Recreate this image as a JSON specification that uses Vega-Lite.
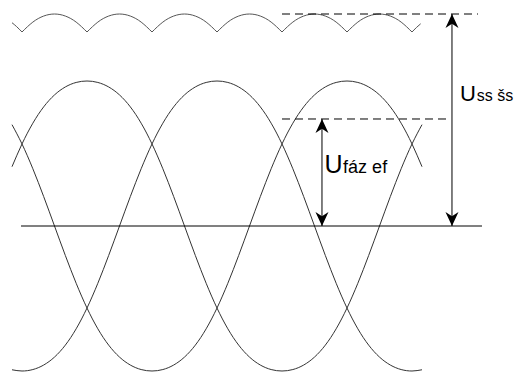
{
"$schema": "https://vega.github.io/schema/vega-lite/v6.json",
"width": 520, "height": 373, "padding": 0, "autosize": {"type": "none"},
"background": "white",
"config": {"view": {"stroke": null}},
"datasets": {
"phases": [
{"phase":"A","x":-69.23,"y":0.40897},{"phase":"A","x":-60,"y":0.56576},{"phase":"A","x":-50,"y":0.70894},{"phase":"A","x":-40,"y":0.82154},{"phase":"A","x":-30,"y":0.904},{"phase":"A","x":-20,"y":0.95897},{"phase":"A","x":-10,"y":0.99002},{"phase":"A","x":0,"y":1},{"phase":"A","x":10,"y":0.99002},{"phase":"A","x":20,"y":0.95897},{"phase":"A","x":30,"y":0.904},{"phase":"A","x":40,"y":0.82154},{"phase":"A","x":50,"y":0.70894},{"phase":"A","x":60,"y":0.56576},{"phase":"A","x":70,"y":0.39498},{"phase":"A","x":80,"y":0.20318},{"phase":"A","x":90,"y":0},{"phase":"A","x":100,"y":-0.20318},{"phase":"A","x":110,"y":-0.39498},{"phase":"A","x":120,"y":-0.56576},{"phase":"A","x":130,"y":-0.70894},{"phase":"A","x":140,"y":-0.82154},{"phase":"A","x":150,"y":-0.904},{"phase":"A","x":160,"y":-0.95897},{"phase":"A","x":170,"y":-0.99002},{"phase":"A","x":180,"y":-1},{"phase":"A","x":190,"y":-0.99002},{"phase":"A","x":200,"y":-0.95897},{"phase":"A","x":210,"y":-0.904},{"phase":"A","x":220,"y":-0.82154},{"phase":"A","x":230,"y":-0.70894},{"phase":"A","x":240,"y":-0.56576},{"phase":"A","x":250,"y":-0.39498},{"phase":"A","x":260,"y":-0.20318},{"phase":"A","x":270,"y":0},{"phase":"A","x":280,"y":0.20318},{"phase":"A","x":290,"y":0.39498},{"phase":"A","x":300,"y":0.56576},{"phase":"A","x":309.23,"y":0.69891},
{"phase":"B","x":-69.23,"y":-0.99151},{"phase":"B","x":-60,"y":-1},{"phase":"B","x":-50,"y":-0.99002},{"phase":"B","x":-40,"y":-0.95897},{"phase":"B","x":-30,"y":-0.904},{"phase":"B","x":-20,"y":-0.82154},{"phase":"B","x":-10,"y":-0.70894},{"phase":"B","x":0,"y":-0.56576},{"phase":"B","x":10,"y":-0.39498},{"phase":"B","x":20,"y":-0.20318},{"phase":"B","x":30,"y":0},{"phase":"B","x":40,"y":0.20318},{"phase":"B","x":50,"y":0.39498},{"phase":"B","x":60,"y":0.56576},{"phase":"B","x":70,"y":0.70894},{"phase":"B","x":80,"y":0.82154},{"phase":"B","x":90,"y":0.904},{"phase":"B","x":100,"y":0.95897},{"phase":"B","x":110,"y":0.99002},{"phase":"B","x":120,"y":1},{"phase":"B","x":130,"y":0.99002},{"phase":"B","x":140,"y":0.95897},{"phase":"B","x":150,"y":0.904},{"phase":"B","x":160,"y":0.82154},{"phase":"B","x":170,"y":0.70894},{"phase":"B","x":180,"y":0.56576},{"phase":"B","x":190,"y":0.39498},{"phase":"B","x":200,"y":0.20318},{"phase":"B","x":210,"y":0},{"phase":"B","x":220,"y":-0.20318},{"phase":"B","x":230,"y":-0.39498},{"phase":"B","x":240,"y":-0.56576},{"phase":"B","x":250,"y":-0.70894},{"phase":"B","x":260,"y":-0.82154},{"phase":"B","x":270,"y":-0.904},{"phase":"B","x":280,"y":-0.95897},{"phase":"B","x":290,"y":-0.99002},{"phase":"B","x":300,"y":-1},{"phase":"B","x":309.23,"y":-0.99151},
{"phase":"C","x":-69.23,"y":0.69891},{"phase":"C","x":-60,"y":0.56576},{"phase":"C","x":-50,"y":0.39498},{"phase":"C","x":-40,"y":0.20318},{"phase":"C","x":-30,"y":0},{"phase":"C","x":-20,"y":-0.20318},{"phase":"C","x":-10,"y":-0.39498},{"phase":"C","x":0,"y":-0.56576},{"phase":"C","x":10,"y":-0.70894},{"phase":"C","x":20,"y":-0.82154},{"phase":"C","x":30,"y":-0.904},{"phase":"C","x":40,"y":-0.95897},{"phase":"C","x":50,"y":-0.99002},{"phase":"C","x":60,"y":-1},{"phase":"C","x":70,"y":-0.99002},{"phase":"C","x":80,"y":-0.95897},{"phase":"C","x":90,"y":-0.904},{"phase":"C","x":100,"y":-0.82154},{"phase":"C","x":110,"y":-0.70894},{"phase":"C","x":120,"y":-0.56576},{"phase":"C","x":130,"y":-0.39498},{"phase":"C","x":140,"y":-0.20318},{"phase":"C","x":150,"y":0},{"phase":"C","x":160,"y":0.20318},{"phase":"C","x":170,"y":0.39498},{"phase":"C","x":180,"y":0.56576},{"phase":"C","x":190,"y":0.70894},{"phase":"C","x":200,"y":0.82154},{"phase":"C","x":210,"y":0.904},{"phase":"C","x":220,"y":0.95897},{"phase":"C","x":230,"y":0.99002},{"phase":"C","x":240,"y":1},{"phase":"C","x":250,"y":0.99002},{"phase":"C","x":260,"y":0.95897},{"phase":"C","x":270,"y":0.904},{"phase":"C","x":280,"y":0.82154},{"phase":"C","x":290,"y":0.70894},{"phase":"C","x":300,"y":0.56576},{"phase":"C","x":309.23,"y":0.40897}
],
"ripple": [
{"seg":0,"x":-69.23,"y":1.40185},{"seg":0,"x":-65,"y":1.37528},{"seg":0,"x":-60,"y":1.338},
{"seg":1,"x":-60,"y":1.338},{"seg":1,"x":-50,"y":1.40618},{"seg":1,"x":-40,"y":1.44794},{"seg":1,"x":-30,"y":1.462},{"seg":1,"x":-20,"y":1.44794},{"seg":1,"x":-10,"y":1.40618},{"seg":1,"x":0,"y":1.338},
{"seg":2,"x":0,"y":1.338},{"seg":2,"x":10,"y":1.40618},{"seg":2,"x":20,"y":1.44794},{"seg":2,"x":30,"y":1.462},{"seg":2,"x":40,"y":1.44794},{"seg":2,"x":50,"y":1.40618},{"seg":2,"x":60,"y":1.338},
{"seg":3,"x":60,"y":1.338},{"seg":3,"x":70,"y":1.40618},{"seg":3,"x":80,"y":1.44794},{"seg":3,"x":90,"y":1.462},{"seg":3,"x":100,"y":1.44794},{"seg":3,"x":110,"y":1.40618},{"seg":3,"x":120,"y":1.338},
{"seg":4,"x":120,"y":1.338},{"seg":4,"x":130,"y":1.40618},{"seg":4,"x":140,"y":1.44794},{"seg":4,"x":150,"y":1.462},{"seg":4,"x":160,"y":1.44794},{"seg":4,"x":170,"y":1.40618},{"seg":4,"x":180,"y":1.338},
{"seg":5,"x":180,"y":1.338},{"seg":5,"x":190,"y":1.40618},{"seg":5,"x":200,"y":1.44794},{"seg":5,"x":210,"y":1.462},{"seg":5,"x":220,"y":1.44794},{"seg":5,"x":230,"y":1.40618},{"seg":5,"x":240,"y":1.338},
{"seg":6,"x":240,"y":1.338},{"seg":6,"x":250,"y":1.40618},{"seg":6,"x":260,"y":1.44794},{"seg":6,"x":270,"y":1.462},{"seg":6,"x":280,"y":1.44794},{"seg":6,"x":290,"y":1.40618},{"seg":6,"x":300,"y":1.338},
{"seg":7,"x":300,"y":1.338},{"seg":7,"x":304,"y":1.36832},{"seg":7,"x":308,"y":1.3946}
],
"hlines": [
{"kind":"solid","x":-60.9,"x2":364.6,"y":0},
{"kind":"dashed","x":180,"x2":360.9,"y":1.462},
{"kind":"dashed","x":180,"x2":332.3,"y":0.738}
],
"vlines": [
{"x":216.9,"y":0,"y2":0.738},
{"x":336.9,"y":0,"y2":1.462}
],
"heads": [
{"dir":"up","x":216.9,"y":0.738},
{"dir":"down","x":216.9,"y":0},
{"dir":"up","x":336.9,"y":1.462},
{"dir":"down","x":336.9,"y":0}
],
"labels": [
{"part":"U1","x":219.2,"y":0.3655,"text":"U"},
{"part":"s1","x":236.4,"y":0.3655,"text":"fáz ef"},
{"part":"U2","x":344.3,"y":0.862,"text":"U"},
{"part":"s2","x":359.8,"y":0.862,"text":"ss šs"}
]
},
"encoding": {
"x": {"field":"x","type":"quantitative","scale":{"domain":[-80.31,399.69],"nice":false,"zero":false},"axis":null},
"y": {"field":"y","type":"quantitative","scale":{"domain":[-1.01379,1.55862],"nice":false,"zero":false},"axis":null}
},
"layer": [
{"data":{"name":"phases"},"mark":{"type":"line","interpolate":"natural","stroke":"#333333","strokeWidth":1},"encoding":{"detail":{"field":"phase","type":"nominal"},"order":{"field":"x","type":"quantitative"}}},
{"data":{"name":"ripple"},"mark":{"type":"line","interpolate":"natural","stroke":"#555555","strokeWidth":1},"encoding":{"detail":{"field":"seg","type":"nominal"},"order":{"field":"x","type":"quantitative"}}},
{"data":{"name":"hlines"},"mark":{"type":"rule","stroke":"black","strokeWidth":1},"encoding":{"x2":{"field":"x2"},"strokeDash":{"field":"kind","type":"nominal","scale":{"domain":["solid","dashed"],"range":[[1,0],[8,5]]},"legend":null}}},
{"data":{"name":"vlines"},"mark":{"type":"rule","stroke":"black","strokeWidth":1},"encoding":{"y2":{"field":"y2"}}},
{"data":{"name":"heads"},"mark":{"type":"point","filled":true,"color":"black","opacity":1,"size":169,"strokeWidth":0},"encoding":{"shape":{"field":"dir","type":"nominal","scale":{"domain":["up","down"],"range":["M0,0L1,2.15L0,1.5L-1,2.15Z","M0,0L1,-2.15L0,-1.5L-1,-2.15Z"]},"legend":null}}},
{"data":{"name":"labels"},"transform":[{"filter":"datum.part=='U1'"}],"mark":{"type":"text","align":"left","baseline":"alphabetic","font":"Liberation Sans","fontSize":25,"color":"black"},"encoding":{"text":{"field":"text"}}},
{"data":{"name":"labels"},"transform":[{"filter":"datum.part=='s1'"}],"mark":{"type":"text","align":"left","baseline":"alphabetic","font":"Liberation Sans","fontSize":18,"color":"black"},"encoding":{"text":{"field":"text"}}},
{"data":{"name":"labels"},"transform":[{"filter":"datum.part=='U2'"}],"mark":{"type":"text","align":"left","baseline":"alphabetic","font":"Liberation Sans","fontSize":22,"color":"black"},"encoding":{"text":{"field":"text"}}},
{"data":{"name":"labels"},"transform":[{"filter":"datum.part=='s2'"}],"mark":{"type":"text","align":"left","baseline":"alphabetic","font":"Liberation Sans","fontSize":16,"color":"black"},"encoding":{"text":{"field":"text"}}}
]
}
